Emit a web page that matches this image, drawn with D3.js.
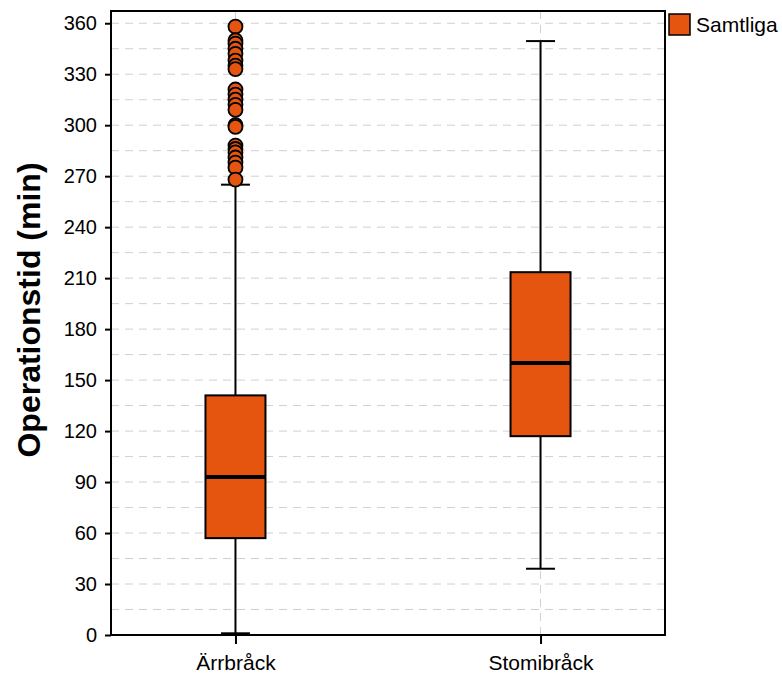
<!DOCTYPE html>
<html><head><meta charset="utf-8">
<script src="https://cdn.jsdelivr.net/npm/d3@7"></script>
<style>body{margin:0;background:#fff}svg{display:block;font-family:"Liberation Sans",Arial,Helvetica,sans-serif}</style>
</head><body><svg id="c" width="782" height="675"></svg>
<script>
const categories = ["Ärrbråck", "Stomibråck"];
const seriesName = "Samtliga";
const whiskerLow = [1, 39];
const q1 = [57, 117];
const median = [93, 160];
const q3 = [141, 213.5];
const whiskerHigh = [265, 349.5];
const outliersArr = [358, 350, 348, 345, 342, 338, 335, 333, 321, 318, 315, 312, 309, 300, 299, 288, 286, 284, 281, 278, 275, 268];
const outliersStomi = [];
const yTicks = [0, 30, 60, 90, 120, 150, 180, 210, 240, 270, 300, 330, 360];
const yMinor = d3.range(15, 361, 30);
const color = "#E5550F";

const svg = d3.select("#c");
const L = 111, R = 665, T = 11, B = 635;
const y = d3.scaleLinear().domain([0, 367.2]).range([B, T]);
const x = d3.scalePoint().domain(categories).range([L, R]).padding(0.408);

const g = svg.append("g");
// grid
g.selectAll(".gy").data(yTicks.concat(yMinor)).join("line")
  .attr("x1", L).attr("x2", R).attr("y1", d => y(d)).attr("y2", d => y(d))
  .attr("stroke", "#d0d0d0").attr("stroke-width", 1).attr("stroke-dasharray", "8,6");
g.selectAll(".gx").data(categories).join("line")
  .attr("x1", d => x(d)).attr("x2", d => x(d)).attr("y1", T).attr("y2", B)
  .attr("stroke", "#d0d0d0").attr("stroke-width", 1).attr("stroke-dasharray", "8,6");

const data = categories.map((c, i) => ({c, lo: whiskerLow[i], q1: q1[i], med: median[i], q3: q3[i], hi: whiskerHigh[i], out: i === 0 ? outliersArr : outliersStomi}));
const bw = 60, cw = 29;
const bx = g.selectAll(".box").data(data).join("g");
bx.append("line").attr("x1", d => x(d.c)).attr("x2", d => x(d.c)).attr("y1", d => y(d.lo)).attr("y2", d => y(d.q1)).attr("stroke", "#000").attr("stroke-width", 2);
bx.append("line").attr("x1", d => x(d.c)).attr("x2", d => x(d.c)).attr("y1", d => y(d.q3)).attr("y2", d => y(d.hi)).attr("stroke", "#000").attr("stroke-width", 2);
bx.append("line").attr("x1", d => x(d.c) - cw/2).attr("x2", d => x(d.c) + cw/2).attr("y1", d => y(d.lo)).attr("y2", d => y(d.lo)).attr("stroke", "#000").attr("stroke-width", 2);
bx.append("line").attr("x1", d => x(d.c) - cw/2).attr("x2", d => x(d.c) + cw/2).attr("y1", d => y(d.hi)).attr("y2", d => y(d.hi)).attr("stroke", "#000").attr("stroke-width", 2);
bx.append("rect").attr("x", d => x(d.c) - bw/2).attr("width", bw).attr("y", d => y(d.q3)).attr("height", d => y(d.q1) - y(d.q3))
  .attr("fill", color).attr("stroke", "#000").attr("stroke-width", 2);
bx.append("line").attr("x1", d => x(d.c) - bw/2).attr("x2", d => x(d.c) + bw/2).attr("y1", d => y(d.med)).attr("y2", d => y(d.med)).attr("stroke", "#000").attr("stroke-width", 4);
bx.each(function(d) {
  d3.select(this).selectAll("circle").data(d.out).join("circle")
    .attr("cx", x(d.c)).attr("cy", v => y(v)).attr("r", 7)
    .attr("fill", color).attr("stroke", "#000").attr("stroke-width", 1.8);
});

// frame
svg.append("rect").attr("x", L).attr("y", T).attr("width", R - L).attr("height", B - T).attr("fill", "none").attr("stroke", "#000").attr("stroke-width", 2);

// axes
const ya = svg.append("g").attr("transform", `translate(${L},0)`).call(d3.axisLeft(y).tickValues(yTicks).tickSize(6).tickPadding(8));
ya.select(".domain").remove();
ya.selectAll(".tick line").attr("stroke-width", 2);
ya.selectAll("text").attr("font-size", 20).attr("fill", "#000").attr("font-family", "Liberation Sans, Arial, sans-serif");
const xa = svg.append("g").attr("transform", `translate(0,${B})`).call(d3.axisBottom(x).tickSize(9).tickPadding(11));
xa.select(".domain").remove();
xa.selectAll(".tick line").attr("stroke-width", 2);
xa.selectAll("text").attr("font-size", 21).attr("fill", "#000").attr("font-family", "Liberation Sans, Arial, sans-serif");

svg.append("text").attr("transform", "translate(40,310) rotate(-90)").attr("text-anchor", "middle")
  .attr("font-size", 32).attr("font-weight", "bold").text("Operationstid (min)");

// legend
svg.append("rect").attr("x", 669).attr("y", 14).attr("width", 21).attr("height", 21).attr("fill", color).attr("stroke", "#000").attr("stroke-width", 1.5);
svg.append("text").attr("x", 696).attr("y", 32).attr("font-size", 21).text(seriesName);
</script></body></html>
